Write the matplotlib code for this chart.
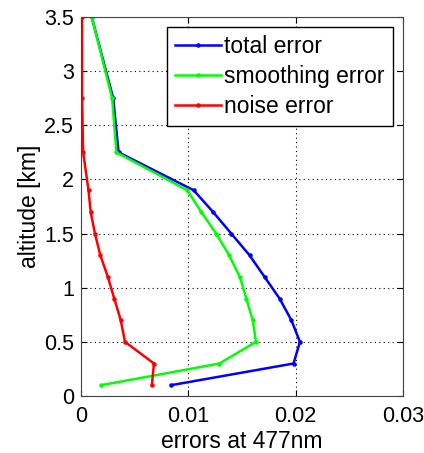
import matplotlib
matplotlib.use('Agg')
import matplotlib.pyplot as plt

plt.rcParams['font.family'] = ['Liberation Sans', 'DejaVu Sans']

# altitude levels [km]
alt = [0.1, 0.3, 0.5, 0.7, 0.9, 1.1, 1.3, 1.5, 1.7, 1.9, 2.25, 2.75, 3.5]

# errors
total_err = [0.0084, 0.0198, 0.0204, 0.0196, 0.0185, 0.0171, 0.0157, 0.0140,
             0.0123, 0.0105, 0.0035, 0.0030, 0.0010]
smooth_err = [0.0019, 0.0129, 0.0163, 0.0160, 0.0154, 0.0148, 0.0138, 0.0126,
              0.0112, 0.0099, 0.0033, 0.0029, 0.0010]
noise_err = [0.0066, 0.0068, 0.0041, 0.0037, 0.0031, 0.0025, 0.0018, 0.0013,
             0.0009, 0.0007, 0.0002, 0.0001, 0.0001]

fig = plt.figure(figsize=(4.24, 4.53), dpi=100)
ax = fig.add_axes([81/424, 1-396/453, 322/424, 379/453])

ax.plot(total_err, alt, color='b', lw=1.8, marker='.', ms=4.5, label='total error')
ax.plot(smooth_err, alt, color='#00ff00', lw=1.8, marker='.', ms=4.5, label='smoothing error')
ax.plot(noise_err, alt, color='r', lw=1.8, marker='.', ms=4.5, label='noise error')

ax.set_xlim(0, 0.03)
ax.set_ylim(0, 3.5)
ax.set_xticks([0, 0.01, 0.02, 0.03])
ax.set_xticklabels(['0', '0.01', '0.02', '0.03'])
ax.set_yticks([0, 0.5, 1, 1.5, 2, 2.5, 3, 3.5])
ax.set_yticklabels(['0', '0.5', '1', '1.5', '2', '2.5', '3', '3.5'])
ax.grid(True, color='k', linestyle=(0, (1, 3)), linewidth=0.8)
ax.tick_params(direction='in', top=True, right=True, labelsize=15.5, length=4)
ax.tick_params(axis='x', pad=7)
ax.tick_params(axis='y', pad=5)
ax.set_xlabel('errors at 477nm', fontsize=16.5, labelpad=2)
ax.set_ylabel('altitude [km]', fontsize=16.5, labelpad=2)
for s in ax.spines.values():
    s.set_color('#444444')

leg = ax.legend(loc='upper right', fontsize=16.5, fancybox=False, framealpha=1,
                edgecolor='k', borderpad=0.35, labelspacing=0.3,
                handlelength=2.0, handletextpad=0.15, borderaxespad=0.45)
leg.get_frame().set_linewidth(1)

fig.savefig('out.png', dpi=100)
